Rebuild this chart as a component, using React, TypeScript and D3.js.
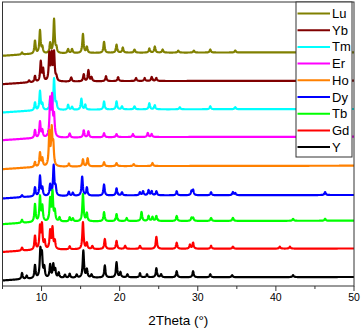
import React from 'react';
import * as d3 from 'd3';

const seriesNames = ['Lu', 'Yb', 'Tm', 'Er', 'Ho', 'Dy', 'Tb', 'Gd', 'Y'];
const seriesColors = ['#808000', '#800000', '#00FFFF', '#FF00FF', '#FF8000', '#0000FF', '#00FF00', '#FF0000', '#000000'];
const seriesOffsets = [224.7, 196.3, 168, 140.3, 111.3, 82, 56.3, 28.5, 0];

// [2theta, height] peak lists
const peaksLu = [[7.5,2],[9.16,13],[9.8,23],[10.1,6],[11.1,10],[11.6,34],[11.9,5],[13.4,4],[13.9,4],[15.3,19],[15.8,6],[18.0,11],[19.6,8],[20.4,5],[21.9,3],[23.8,4],[24.5,6],[25.5,3],[27.5,2],[29.5,2],[31.6,3],[34.8,2]];
const peaksYb = [[8.4,2],[9.16,6],[9.9,20],[10.2,12],[11.0,27],[11.3,26],[11.6,28],[11.9,4],[13.8,4],[15.4,7],[16.0,11],[16.4,4],[18.25,5],[19.8,4],[22.1,3],[23.2,3],[24.1,4],[24.7,3]];
const peaksTm = [[9.16,8],[9.8,19],[10.1,6],[11.1,10],[11.6,31],[11.9,6],[13.4,5],[13.9,3],[15.1,11],[15.6,5],[18.0,8],[19.6,8],[20.3,3],[21.9,3],[23.8,6],[24.5,4],[27.7,2],[31.6,3],[34.8,2]];
const peaksEr = [[9.16,8],[9.8,16],[10.1,7],[11.1,36],[11.35,38],[11.6,20],[13.6,4],[15.4,7],[16.0,6],[18.0,4],[19.6,3],[21.7,3],[23.6,4],[24.1,3]];
const peaksHo = [[9.16,5],[9.8,14],[10.1,8],[11.0,33],[11.3,35],[11.5,20],[13.5,3],[15.3,7],[15.9,8],[18.0,4],[19.6,3],[21.8,2],[24.2,3]];
const peaksDy = [[7.5,2],[9.16,9],[9.8,20],[10.1,8],[11.1,11],[11.55,30],[11.8,8],[13.5,4],[14.0,3],[15.2,19],[15.8,8],[18.0,11],[19.6,7],[20.3,3],[22.6,3],[23.0,4],[23.7,5],[24.1,4],[24.7,4],[27.3,4],[29.2,4],[29.4,5],[31.7,3],[34.5,3],[34.8,2],[46.3,3]];
const peaksTb = [[7.5,3],[9.16,18],[9.8,25],[10.1,15],[11.1,22],[11.4,29],[11.7,10],[12.3,4],[13.6,4],[14.0,3],[15.3,27],[15.8,8],[18.0,9],[19.6,7],[20.9,3],[22.8,9],[23.7,5],[24.2,4],[24.7,5],[27.3,5],[29.2,3],[29.4,3],[31.7,3],[34.5,3],[42.2,2],[46.3,2]];
const peaksGd = [[7.5,3],[9.16,14],[9.8,22],[10.05,24],[10.4,8],[11.1,18],[11.4,21],[11.7,8],[13.6,3],[15.3,27],[15.8,6],[16.5,3],[18.1,10],[19.6,8],[20.7,3],[22.6,3],[24.7,12],[27.3,6],[29.0,4],[29.4,6],[31.7,3],[34.5,2],[40.5,2],[41.8,2]];
const peaksY = [[7.5,6],[8.1,3],[9.16,13],[9.85,27],[10.05,22],[10.35,10],[11.1,13],[11.5,13],[11.75,8],[12.2,5],[13.0,3],[13.6,4],[14.5,3],[15.35,27],[15.8,8],[16.4,3],[18.1,12],[19.6,15],[20.1,5],[21.0,3],[22.6,4],[23.5,3],[24.7,9],[25.3,3],[27.3,6],[29.4,6],[31.6,3],[34.4,2],[42.2,2]];
const seriesPeaks = [peaksLu, peaksYb, peaksTm, peaksEr, peaksHo, peaksDy, peaksTb, peaksGd, peaksY];

const bgAngles = [5, 6, 8, 10, 13, 20, 50];
const bgLevels = [-3.5, -3, -2, -1.5, -1, -0.4, 0];

const xTicksMajor = [10, 20, 30, 40, 50];
const xTicksMinor = [5, 15, 25, 35, 45];
const xLabel = '2Theta (°)';

const W = 362, H = 330;
const left = 2.5, right = 354, top = 2, bottom = 286;

export default function App() {
  const x = d3.scaleLinear().domain([5, 50]).range([left, right]);
  const y = d3.scaleLinear().domain([-9, 275]).range([bottom, top]);
  const bg = d3.scaleLinear().domain(bgAngles).range(bgLevels).clamp(true);
  const angles = d3.range(5, 50.001, 0.025);
  const w = 0.12;
  const line = d3.line<[number, number]>().x(d => x(d[0])).y(d => y(d[1]));

  const paths = seriesPeaks.map((peaks, i) => {
    const pts: [number, number][] = angles.map(a => {
      let v = seriesOffsets[i] + bg(a);
      for (const [p, h] of peaks) {
        const d = (a - p) / w;
        v += h / (1 + d * d * 1.6);
      }
      return [a, v];
    });
    return line(pts) as string;
  });

  const font = 'Arial, "Liberation Sans", sans-serif';
  const legX = 296, legY = top, legW = 56, legH = 155;
  const legStep = 16.7;

  return (
    <svg width={W} height={H} style={{ position: 'absolute', left: 0, top: 0, background: '#fff' }} fontFamily={font}>
      <rect x={0} y={0} width={W} height={H} fill="#fff" />
      <defs>
        <clipPath id="plot">
          <rect x={left} y={top} width={right - left} height={bottom - top} />
        </clipPath>
      </defs>
      <g clipPath="url(#plot)">
        {paths.map((d, i) => (
          <path key={seriesNames[i]} d={d} fill="none" stroke={seriesColors[i]} strokeWidth={2.2} strokeLinejoin="round" />
        ))}
      </g>
      <rect x={left} y={top} width={right - left} height={bottom - top} fill="none" stroke="#333" strokeWidth={1} />
      {xTicksMajor.map(t => (
        <g key={'M' + t}>
          <line x1={x(t)} x2={x(t)} y1={bottom} y2={bottom + 5} stroke="#333" />
          <text x={x(t)} y={bottom + 15} fontSize={10.5} textAnchor="middle" fill="#000">{t}</text>
        </g>
      ))}
      {xTicksMinor.map(t => (
        <line key={'m' + t} x1={x(t)} x2={x(t)} y1={bottom} y2={bottom + 3} stroke="#333" />
      ))}
      <text x={(left + right) / 2} y={325} fontSize={13.5} textAnchor="middle" fill="#000">{xLabel}</text>
      <rect x={legX} y={legY} width={legW} height={legH} fill="#fff" stroke="#333" strokeWidth={1} />
      {seriesNames.map((n, i) => (
        <g key={'leg' + n}>
          <line x1={legX + 1.5} x2={legX + 34} y1={legY + 11.5 + i * legStep} y2={legY + 11.5 + i * legStep} stroke={seriesColors[i]} strokeWidth={2} />
          <text x={legX + 36} y={legY + 16 + i * legStep} fontSize={13} fill="#000">{n}</text>
        </g>
      ))}
    </svg>
  );
}
